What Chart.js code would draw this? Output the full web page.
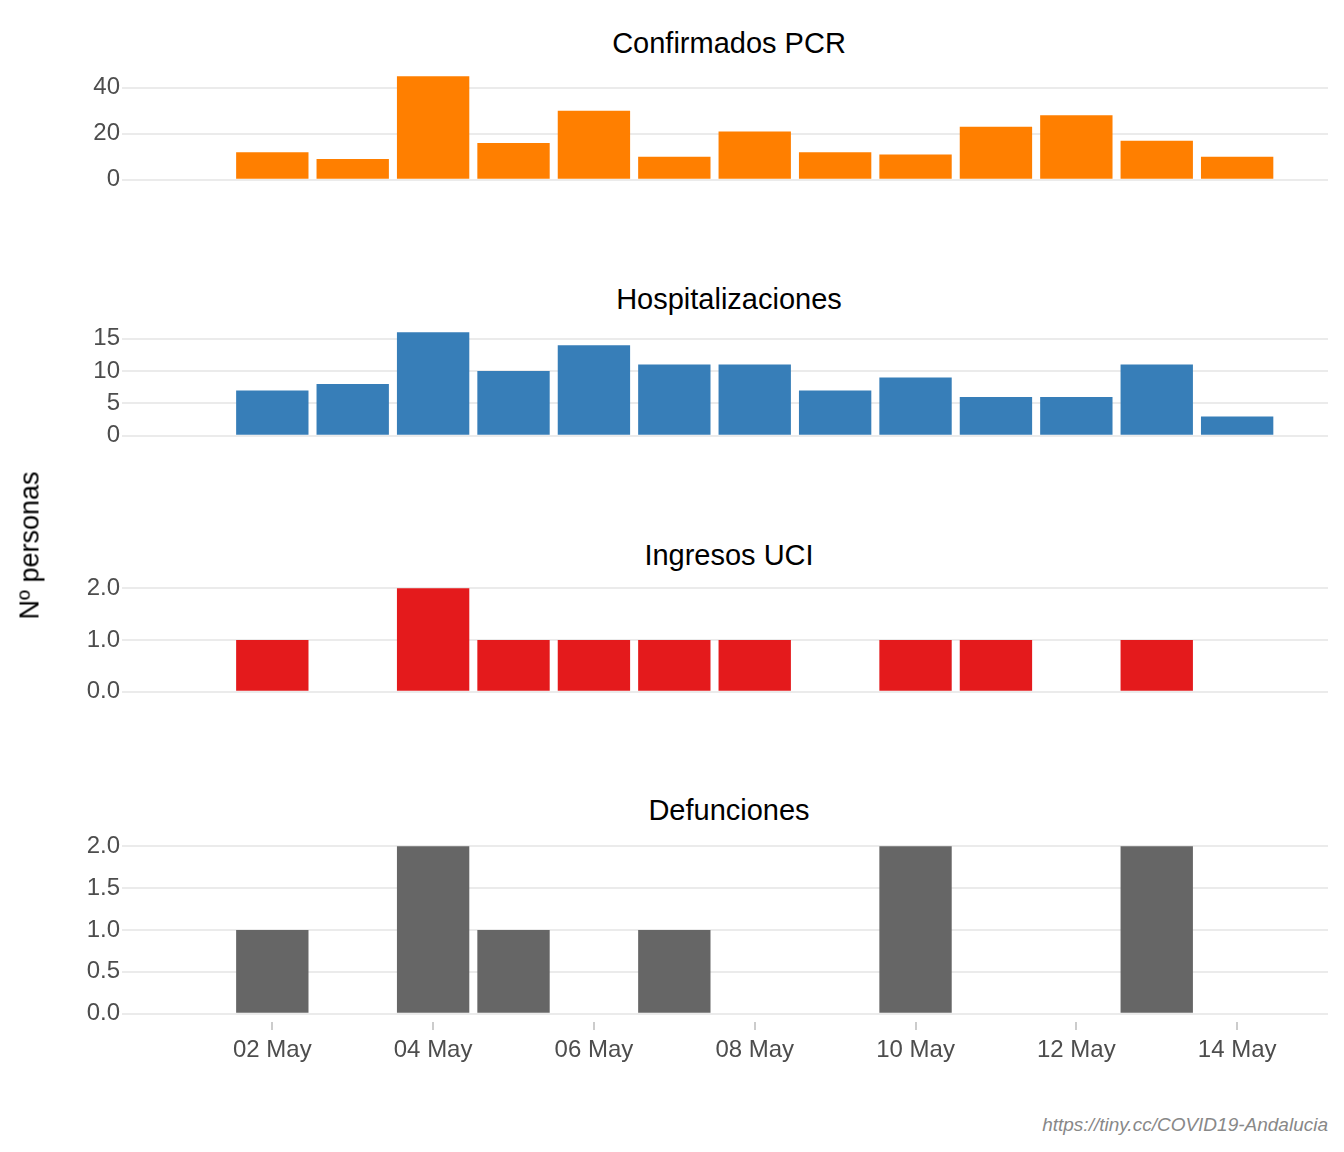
<!DOCTYPE html>
<html><head><meta charset="utf-8">
<script src="https://cdn.jsdelivr.net/npm/chart.js@4"></script>
<style>
body{margin:0;width:1344px;height:1152px;background:#fff;font-family:"Liberation Sans",Arial,sans-serif;position:relative;overflow:hidden}
.t{position:absolute;left:130px;width:1198px;text-align:center;font-size:29px;color:#000}
.w{position:absolute;left:0;width:1328px}
</style></head><body>
<script>
const days=[2,3,4,5,6,7,8,9,10,11,12,13,14];
const xTicks=[2,4,6,8,10,12,14];
const confirmados=[12,9,45,16,30,10,21,12,11,23,28,17,10];
const hospital=[7,8,16,10,14,11,11,7,9,6,6,11,3];
const uci=[1,0,2,1,1,1,1,0,1,1,0,1,0];
const defunciones=[1,0,2,1,0,1,0,0,2,0,0,2,0];
const panels=[
 {title:'Confirmados PCR',data:confirmados,color:'#FF7F00',min:-2.25,max:47.25,ticks:[0,10,20,30,40],top:70.6,dec:0},
 {title:'Hospitalizaciones',data:hospital,color:'#377EB8',min:-0.8,max:16.8,ticks:[0,5,10,15],top:327,dec:0},
 {title:'Ingresos UCI',data:uci,color:'#E41A1C',min:-0.1,max:2.1,ticks:[0,0.5,1,1.5,2],top:582.6,dec:1},
 {title:'Defunciones',data:defunciones,color:'#666666',min:-0.1,max:2.1,ticks:[0,0.5,1,1.5,2],top:837.6,dec:1}
];
const H=184,PAD=20,XH=70;
panels.forEach((p,i)=>{
 const last=i===3;
 const t=document.createElement('div');t.className='t';t.textContent=p.title;t.style.top=(p.top-44)+'px';document.body.appendChild(t);
 const w=document.createElement('div');w.className='w';
 w.style.top=(p.top-PAD)+'px';const h=H+PAD+(last?XH:PAD);w.style.height=h+'px';
 const c=document.createElement('canvas');w.appendChild(c);document.body.appendChild(w);
 new Chart(c,{type:'bar',
  data:{datasets:[{data:days.map((d,k)=>({x:d,y:p.data[k]})),backgroundColor:p.color,barPercentage:0.9,categoryPercentage:1}]},
  options:{responsive:true,maintainAspectRatio:false,animation:false,
   layout:{padding:{top:PAD,bottom:last?0:PAD,right:0,left:0}},
   plugins:{legend:{display:false},tooltip:{enabled:false}},
   scales:{
    x:{type:'linear',min:0.23,max:15.13,display:last,offset:false,
      afterBuildTicks:s=>{s.ticks=xTicks.map(v=>({value:v}));},
      afterFit:s=>{s.height=XH;},
      grid:{drawOnChartArea:false,offset:false,color:'#cccccc',tickLength:8,lineWidth:2},
      border:{display:false},
      ticks:{color:'#4d4d4d',font:{size:24,family:'Liberation Sans'},padding:6,
        callback:v=>String(v).padStart(2,'0')+' May'}},
    y:{min:p.min,max:p.max,
      afterBuildTicks:s=>{s.ticks=p.ticks.map(v=>({value:v}));},
      afterFit:s=>{s.width=130;},
      grid:{color:'#ebebeb',lineWidth:2,tickLength:8},
      border:{display:false},
      ticks:{color:'#4d4d4d',font:{size:24,family:'Liberation Sans'},padding:2,
        callback:v=>v.toFixed(p.dec)}}
   }}});
});
</script>
<div style="position:absolute;left:-70px;top:530px;width:200px;text-align:center;transform:rotate(-90deg);font-size:27px;color:#000">Nº personas</div>
<div style="position:absolute;right:16px;top:1114px;font-size:19px;font-style:italic;color:#888">https://tiny.cc/COVID19-Andalucia</div>
</body></html>
